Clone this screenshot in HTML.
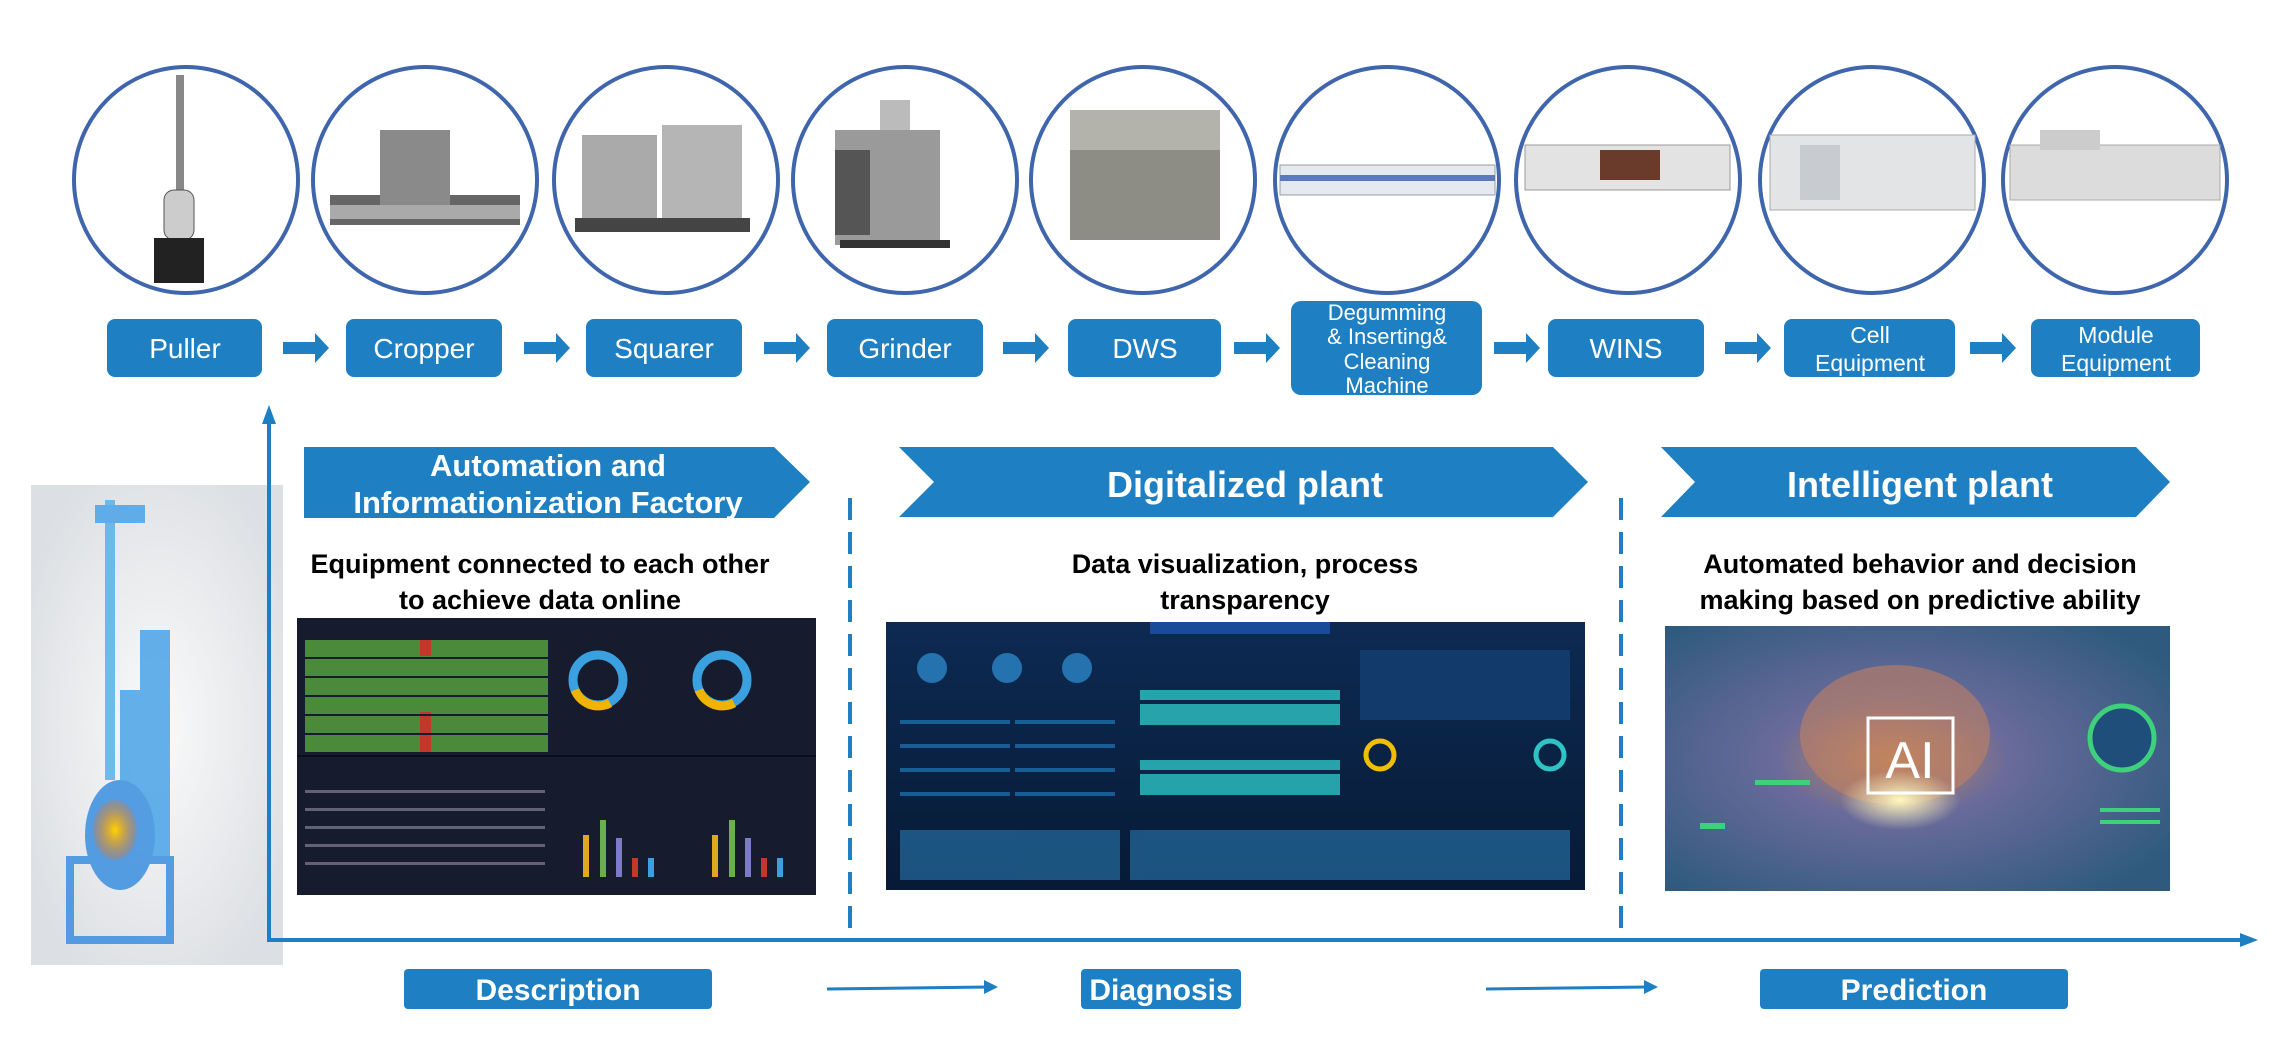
<!DOCTYPE html>
<html><head><meta charset="utf-8"><style>
html,body{margin:0;padding:0;background:#fff;width:2284px;height:1050px;overflow:hidden}
svg{display:block}
text{font-family:"Liberation Sans",sans-serif}
</style></head><body>
<svg width="2284" height="1050" viewBox="0 0 2284 1050" xmlns="http://www.w3.org/2000/svg">
<defs>
<radialGradient id="rg" cx="50%" cy="50%" r="60%"><stop offset="0" stop-color="#fafafa"/><stop offset="1" stop-color="#dcdfe3"/></radialGradient>
<linearGradient id="dash2" x1="0" y1="0" x2="0" y2="1"><stop offset="0" stop-color="#0d2a52"/><stop offset="1" stop-color="#071a36"/></linearGradient>
<radialGradient id="ai" cx="45%" cy="50%" r="65%"><stop offset="0" stop-color="#c98a5a"/><stop offset="0.35" stop-color="#6a6b9a"/><stop offset="1" stop-color="#2f5a7e"/></radialGradient>
<radialGradient id="glow" cx="50%" cy="50%" r="50%"><stop offset="0" stop-color="#fff8c0"/><stop offset="1" stop-color="#fff8c0" stop-opacity="0"/></radialGradient>
<radialGradient id="fire" cx="50%" cy="50%" r="50%"><stop offset="0" stop-color="#ffd400"/><stop offset="1" stop-color="#ff6a00" stop-opacity="0.2"/></radialGradient>
</defs>

<!-- circles -->
<g fill="none" stroke="#3f66ad" stroke-width="4">
<ellipse cx="186" cy="180" rx="112" ry="113"/>
<ellipse cx="425" cy="180" rx="112" ry="113"/>
<ellipse cx="666" cy="180" rx="112" ry="113"/>
<ellipse cx="905" cy="180" rx="112" ry="113"/>
<ellipse cx="1143" cy="180" rx="112" ry="113"/>
<ellipse cx="1387" cy="180" rx="112" ry="113"/>
<ellipse cx="1628" cy="180" rx="112" ry="113"/>
<ellipse cx="1872" cy="180" rx="112" ry="113"/>
<ellipse cx="2115" cy="180" rx="112" ry="113"/>
</g>
<!-- machines -->
<g>
<rect x="176" y="75" width="8" height="120" fill="#888"/><rect x="164" y="190" width="30" height="50" rx="10" fill="#ccc" stroke="#555"/><rect x="154" y="238" width="50" height="45" fill="#222"/>
<rect x="330" y="195" width="190" height="30" fill="#666"/><rect x="380" y="130" width="70" height="80" fill="#8a8a8a"/><rect x="330" y="205" width="190" height="14" fill="#aaa"/>
<rect x="582" y="135" width="75" height="95" fill="#aaa"/><rect x="662" y="125" width="80" height="105" fill="#b5b5b5"/><rect x="575" y="218" width="175" height="14" fill="#444"/>
<rect x="835" y="130" width="105" height="115" fill="#9a9a9a"/><rect x="835" y="150" width="35" height="85" fill="#555"/><rect x="880" y="100" width="30" height="30" fill="#bbb"/><rect x="840" y="240" width="110" height="8" fill="#333"/>
<rect x="1070" y="110" width="150" height="130" fill="#8d8d86"/><rect x="1070" y="110" width="150" height="40" fill="#b3b3ac"/>
<rect x="1280" y="165" width="215" height="30" fill="#e6e9f0" stroke="#99a" /><rect x="1280" y="175" width="215" height="6" fill="#5a7ab8"/>
<rect x="1525" y="145" width="205" height="45" fill="#e3e3e3" stroke="#999"/><rect x="1600" y="150" width="60" height="30" fill="#6a3a2a"/>
<rect x="1770" y="135" width="205" height="75" fill="#e2e4e6" stroke="#aaa"/><rect x="1800" y="145" width="40" height="55" fill="#c8ccd0"/>
<rect x="2010" y="145" width="210" height="55" fill="#dcdcdc" stroke="#aaa"/><rect x="2040" y="130" width="60" height="20" fill="#ccc"/>
</g>

<!-- process boxes -->
<g fill="#1e7fc3">
<rect x="107" y="319" width="155" height="58" rx="8"/>
<rect x="346" y="319" width="156" height="58" rx="8"/>
<rect x="586" y="319" width="156" height="58" rx="8"/>
<rect x="827" y="319" width="156" height="58" rx="8"/>
<rect x="1068" y="319" width="153" height="58" rx="8"/>
<rect x="1291" y="301" width="191" height="94" rx="10"/>
<rect x="1548" y="319" width="156" height="58" rx="8"/>
<rect x="1784" y="319" width="171" height="58" rx="8"/>
<rect x="2031" y="319" width="169" height="58" rx="8"/>
</g>
<g fill="#fff" font-size="28" text-anchor="middle">
<text x="185" y="358">Puller</text>
<text x="424" y="358">Cropper</text>
<text x="664" y="358">Squarer</text>
<text x="905" y="358">Grinder</text>
<text x="1145" y="358">DWS</text>
<text x="1387" y="320" font-size="22">Degumming</text>
<text x="1387" y="344" font-size="22">&amp; Inserting&amp;</text>
<text x="1387" y="369" font-size="22">Cleaning</text>
<text x="1387" y="393" font-size="22">Machine</text>
<text x="1626" y="358">WINS</text>
<text x="1870" y="343" font-size="23">Cell</text>
<text x="1870" y="371" font-size="23">Equipment</text>
<text x="2116" y="343" font-size="23">Module</text>
<text x="2116" y="371" font-size="23">Equipment</text>
</g>
<!-- small arrows -->
<g fill="#1e7fc3">
<path d="M283,342 h32 v-9 l14,15 l-14,15 v-9 h-32z"/>
<path d="M524,342 h32 v-9 l14,15 l-14,15 v-9 h-32z"/>
<path d="M764,342 h32 v-9 l14,15 l-14,15 v-9 h-32z"/>
<path d="M1003,342 h32 v-9 l14,15 l-14,15 v-9 h-32z"/>
<path d="M1234,342 h32 v-9 l14,15 l-14,15 v-9 h-32z"/>
<path d="M1494,342 h32 v-9 l14,15 l-14,15 v-9 h-32z"/>
<path d="M1725,342 h32 v-9 l14,15 l-14,15 v-9 h-32z"/>
<path d="M1970,342 h32 v-9 l14,15 l-14,15 v-9 h-32z"/>
</g>

<!-- reactor image -->
<rect x="31" y="485" width="252" height="480" fill="url(#rg)"/>
<g fill="#4aa3e8" opacity="0.85">
<rect x="105" y="500" width="10" height="280" fill="#5ab0ea"/>
<rect x="95" y="505" width="50" height="18"/>
<rect x="140" y="630" width="30" height="230"/>
<rect x="120" y="690" width="25" height="160"/>
<ellipse cx="120" cy="835" rx="35" ry="55" fill="#3a8fe0"/>
<rect x="70" y="860" width="100" height="80" fill="none" stroke="#3b8fe0" stroke-width="8"/>
</g>
<ellipse cx="115" cy="830" rx="22" ry="30" fill="url(#fire)"/>

<!-- axes -->
<g stroke="#1e7fc3" stroke-width="4" fill="none">
<line x1="269" y1="420" x2="269" y2="940"/>
<line x1="267" y1="940" x2="2245" y2="940"/>
</g>
<path d="M262,424 L269,405 L276,424Z" fill="#1e7fc3"/>
<path d="M2240,933 L2258,940 L2240,947Z" fill="#1e7fc3"/>
<g stroke="#1e7fc3" stroke-width="4" stroke-dasharray="22,12">
<line x1="850" y1="498" x2="850" y2="940"/>
<line x1="1621" y1="498" x2="1621" y2="940"/>
</g>

<!-- banners -->
<g fill="#1e7fc3">
<path d="M304,447 H774 L810,482 L774,518 H304Z"/>
<path d="M899,447 H1553 L1588,482 L1553,517 H899 L934,482Z"/>
<path d="M1661,447 H2136 L2170,482 L2136,517 H1661 L1695,482Z"/>
</g>
<g fill="#fff" font-weight="bold" text-anchor="middle">
<text x="548" y="476" font-size="31">Automation and</text>
<text x="548" y="513" font-size="31">Informationization Factory</text>
<text x="1245" y="497" font-size="36">Digitalized plant</text>
<text x="1920" y="497" font-size="36">Intelligent plant</text>
</g>
<g fill="#000" font-weight="bold" text-anchor="middle" font-size="27">
<text x="540" y="573">Equipment connected to each other</text>
<text x="540" y="609">to achieve data online</text>
<text x="1245" y="573">Data visualization, process</text>
<text x="1245" y="609">transparency</text>
<text x="1920" y="573">Automated behavior and decision</text>
<text x="1920" y="609">making based on predictive ability</text>
</g>

<!-- dashboard 1 -->
<rect x="297" y="618" width="519" height="277" fill="#171b2e"/>
<g fill="#4a8a3a">
<rect x="305" y="640" width="243" height="112"/>
</g>
<g fill="#c0392b"><rect x="420" y="640" width="11" height="16"/><rect x="420" y="712" width="11" height="40"/></g>
<g stroke="#171b2e" stroke-width="2">
<line x1="305" y1="658" x2="548" y2="658"/><line x1="305" y1="677" x2="548" y2="677"/><line x1="305" y1="696" x2="548" y2="696"/><line x1="305" y1="715" x2="548" y2="715"/><line x1="305" y1="734" x2="548" y2="734"/>
</g>
<circle cx="598" cy="680" r="25" fill="none" stroke="#3aa0e0" stroke-width="9"/>
<circle cx="722" cy="680" r="25" fill="none" stroke="#3aa0e0" stroke-width="9"/>
<path d="M575,690 A25,25 0 0 0 610,703" fill="none" stroke="#f0b400" stroke-width="9"/>
<path d="M699,690 A25,25 0 0 0 734,703" fill="none" stroke="#f0b400" stroke-width="9"/>
<line x1="297" y1="756" x2="816" y2="756" stroke="#0b0e1a" stroke-width="2"/>
<g fill="#aab" opacity="0.5"><rect x="305" y="790" width="240" height="3"/><rect x="305" y="808" width="240" height="3"/><rect x="305" y="826" width="240" height="3"/><rect x="305" y="844" width="240" height="3"/><rect x="305" y="862" width="240" height="3"/></g>
<g>
<rect x="583" y="835" width="6" height="42" fill="#e0a820"/><rect x="600" y="820" width="6" height="57" fill="#6ab04c"/><rect x="616" y="838" width="6" height="39" fill="#7b7bc8"/><rect x="632" y="858" width="6" height="19" fill="#c0392b"/><rect x="648" y="858" width="6" height="19" fill="#3aa0e0"/>
<rect x="712" y="835" width="6" height="42" fill="#e0a820"/><rect x="729" y="820" width="6" height="57" fill="#6ab04c"/><rect x="745" y="838" width="6" height="39" fill="#7b7bc8"/><rect x="761" y="858" width="6" height="19" fill="#c0392b"/><rect x="777" y="858" width="6" height="19" fill="#3aa0e0"/>
</g>

<!-- dashboard 2 -->
<rect x="886" y="622" width="699" height="268" fill="url(#dash2)"/>
<rect x="1150" y="622" width="180" height="12" fill="#1a4a9a"/>
<g fill="#2b86c8" opacity="0.8">
<circle cx="932" cy="668" r="15"/><circle cx="1007" cy="668" r="15"/><circle cx="1077" cy="668" r="15"/>
</g>
<g fill="#1e78b8" opacity="0.7">
<rect x="900" y="720" width="110" height="4"/><rect x="900" y="744" width="110" height="4"/><rect x="900" y="768" width="110" height="4"/><rect x="900" y="792" width="110" height="4"/>
<rect x="1015" y="720" width="100" height="4"/><rect x="1015" y="744" width="100" height="4"/><rect x="1015" y="768" width="100" height="4"/><rect x="1015" y="792" width="100" height="4"/>
</g>
<g fill="#2ec4c4" opacity="0.8">
<rect x="1140" y="690" width="200" height="35"/><rect x="1140" y="760" width="200" height="35"/>
</g>
<g fill="#0b2448"><rect x="1140" y="700" width="200" height="4"/><rect x="1140" y="770" width="200" height="4"/></g>
<rect x="1360" y="650" width="210" height="70" fill="#123a6a"/>
<circle cx="1380" cy="755" r="14" fill="none" stroke="#f0c000" stroke-width="5"/>
<circle cx="1550" cy="755" r="14" fill="none" stroke="#2ec4c4" stroke-width="5"/>
<g fill="#2a7ab0" opacity="0.6"><rect x="900" y="830" width="220" height="50"/><rect x="1130" y="830" width="440" height="50"/></g>

<!-- AI image -->
<rect x="1665" y="626" width="505" height="265" fill="url(#ai)"/>
<ellipse cx="1895" cy="735" rx="95" ry="70" fill="#c08060" opacity="0.6"/>
<ellipse cx="1900" cy="800" rx="60" ry="30" fill="url(#glow)"/>
<rect x="1868" y="718" width="85" height="75" fill="none" stroke="#fff" stroke-width="3"/>
<text x="1910" y="778" fill="#fff" font-family="Liberation Serif,serif" font-size="52" text-anchor="middle">AI</text>
<circle cx="2122" cy="738" r="32" fill="#1f4e7a" stroke="#3ed07a" stroke-width="5"/>
<g fill="#3ed07a"><rect x="1700" y="823" width="25" height="6"/><rect x="2100" y="808" width="60" height="4"/><rect x="2100" y="820" width="60" height="4"/><rect x="1755" y="780" width="55" height="5"/></g>

<!-- bottom buttons -->
<g fill="#1e7fc3">
<rect x="404" y="969" width="308" height="40" rx="4"/>
<rect x="1081" y="969" width="160" height="40" rx="4"/>
<rect x="1760" y="969" width="308" height="40" rx="4"/>
</g>
<g fill="#fff" font-weight="bold" font-size="30" text-anchor="middle">
<text x="558" y="1000">Description</text>
<text x="1161" y="1000">Diagnosis</text>
<text x="1914" y="1000">Prediction</text>
</g>
<g stroke="#1e7fc3" stroke-width="3"><line x1="827" y1="989" x2="988" y2="987"/><line x1="1486" y1="989" x2="1648" y2="987"/></g>
<g fill="#1e7fc3"><path d="M984,980 L998,987 L984,994Z"/><path d="M1644,980 L1658,987 L1644,994Z"/></g>
</svg>
</body></html>
